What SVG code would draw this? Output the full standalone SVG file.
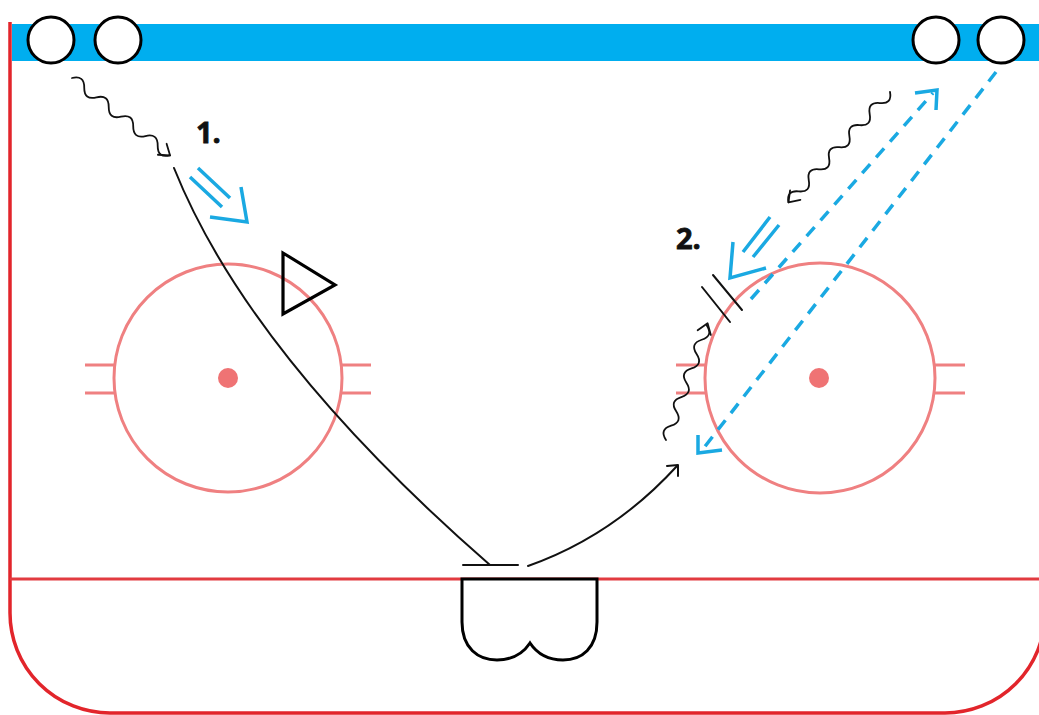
<svg xmlns="http://www.w3.org/2000/svg" xmlns:xlink="http://www.w3.org/1999/xlink" width="1039" height="715" viewBox="0 0 1039 715">
<style>
.rink{fill:none;stroke:#e2252b;stroke-width:3.5}
.gl{fill:none;stroke:#e23b40;stroke-width:3}
.fo{fill:none;stroke:#ef8081;stroke-width:3}
.dot{fill:#ef7374}
.plr{fill:#fff;stroke:#000;stroke-width:3}
.blk{fill:none;stroke:#111;stroke-width:2;stroke-linecap:round;stroke-linejoin:round}
.wav{fill:none;stroke:#111;stroke-width:1.8;stroke-linecap:round;stroke-linejoin:round}
.blu{fill:none;stroke:#1aa9e2;stroke-width:3.5;stroke-linecap:butt;stroke-linejoin:miter}
.dash{fill:none;stroke:#1aa9e2;stroke-width:3.5;stroke-dasharray:12 9}
.lbl{font-family:"Open Sans","Liberation Sans",sans-serif;font-weight:700;font-size:29px;fill:#111;stroke:#111;stroke-width:0.8}
</style>
<defs>
<path id="chev" d="M-10,-7 L0,0 L-10,7"/>
</defs>
<rect width="1039" height="715" fill="#fff"/>
<g id="rink">
<rect x="12" y="24" width="1027" height="37" fill="#00aeef"/>
<path class="rink" d="M10,22 V613 A100,100 0 0 0 110,713 H945 A100,100 0 0 0 1045,613 V22"/>
<line class="gl" x1="10" y1="579" x2="1039" y2="579"/>
</g>
<g id="faceoff-left">
<circle class="fo" cx="228" cy="378" r="114"/>
<circle class="dot" cx="228" cy="378" r="10"/>
<path class="fo" d="M85,365 H114 M85,393 H114 M342,365 H371 M342,393 H371"/>
</g>
<g id="faceoff-right">
<circle class="fo" cx="820" cy="378" r="115"/>
<circle class="dot" cx="819" cy="378" r="10"/>
<path class="fo" d="M676,365 H705 M676,393 H705 M935,365 H965 M935,393 H965"/>
</g>
<g id="goal">
<path d="M462,579 V622 C462,648 478,660 497,660 C514,660 524,652 530,643 C536,652 546,660 563,660 C582,660 597,648 597,622 V579 Z" fill="#fff" stroke="#000" stroke-width="3"/>
</g>
<g id="players">
<circle class="plr" cx="51" cy="40" r="23"/>
<circle class="plr" cx="118" cy="40" r="23"/>
<circle class="plr" cx="936" cy="40" r="23"/>
<circle class="plr" cx="1001" cy="40" r="23"/>
</g>
<g id="defender">
<path d="M283,253 L335,285 L283,314 Z" fill="none" stroke="#000" stroke-width="3.2" stroke-linejoin="miter"/>
</g>
<g id="labels">
<text class="lbl" x="196" y="143">1.</text>
<text class="lbl" x="676" y="249">2.</text>
</g>
<g id="connectors">
<!-- drill 1 -->
<g transform="translate(72,78) rotate(38.3)">
<path class="wav" d="M0,0 c5.2,-6.7 10.4,-6.7 15.6,0 c5.2,6.7 10.4,6.7 15.6,0 c5.2,-6.7 10.4,-6.7 15.6,0 c5.2,6.7 10.4,6.7 15.6,0 c5.2,-6.7 10.4,-6.7 15.6,0 c5.2,6.7 10.4,6.7 15.6,0 c5.2,-6.7 10.4,-6.7 15.6,0 c5.2,6.7 10.4,6.7 15.6,0"/>
<use href="#chev" class="wav" x="125" y="0"/>
</g>
<path class="blk" d="M174,168 Q249,355 490,565"/>
<line class="blk" x1="463" y1="565" x2="518" y2="565"/>
<path class="blu" d="M198,168 L230,198 M190,177 L222,207"/>
<polyline class="blu" points="210,217 247,222 241,187"/>
<!-- drill 2 -->
<path class="blk" d="M528,566 Q613,536 677,466"/>
<path class="blk" d="M667,466 L678,465 L678,476"/>
<g transform="translate(890,92) rotate(132.6)">
<path class="wav" d="M0,0 c5,-6.7 10,-6.7 15,0 c5,6.7 10,6.7 15,0 c5,-6.7 10,-6.7 15,0 c5,6.7 10,6.7 15,0 c5,-6.7 10,-6.7 15,0 c5,6.7 10,6.7 15,0 c5,-6.7 10,-6.7 15,0 c5,6.7 10,6.7 15,0 c5,-6.7 10,-6.7 15,0 c5,6.7 10,6.7 15,0"/>
<use href="#chev" class="wav" x="150" y="0"/>
</g>
<g transform="translate(666,440) rotate(-70.4)">
<path class="wav" d="M0,0 c5.1,-6.7 10.1,-6.7 15.2,0 c5.1,6.7 10.1,6.7 15.2,0 c5.1,-6.7 10.1,-6.7 15.2,0 c5.1,6.7 10.1,6.7 15.2,0 c5.1,-6.7 10.1,-6.7 15.2,0 c5.1,6.7 10.1,6.7 15.2,0 c5.1,-6.7 10.1,-6.7 15.2,0 c5.1,6.7 10.1,6.7 15.2,0"/>
<use href="#chev" class="wav" x="124" y="0"/>
</g>
<path class="blu" d="M770,217 L743,252 M779,225 L753,257"/>
<polyline class="blu" points="733,242 730,278 766,268"/>
<path class="blk" d="M702,287 L730,322 M713,275 L742,310"/>
<line class="dash" x1="751" y1="299" x2="933" y2="93"/>
<polyline class="blu" points="915,93 937,90 936,110"/>
<line class="dash" x1="996" y1="72" x2="703" y2="449"/>
<polyline class="blu" points="698,435 698,453 722,450"/>
</g>
</svg>
